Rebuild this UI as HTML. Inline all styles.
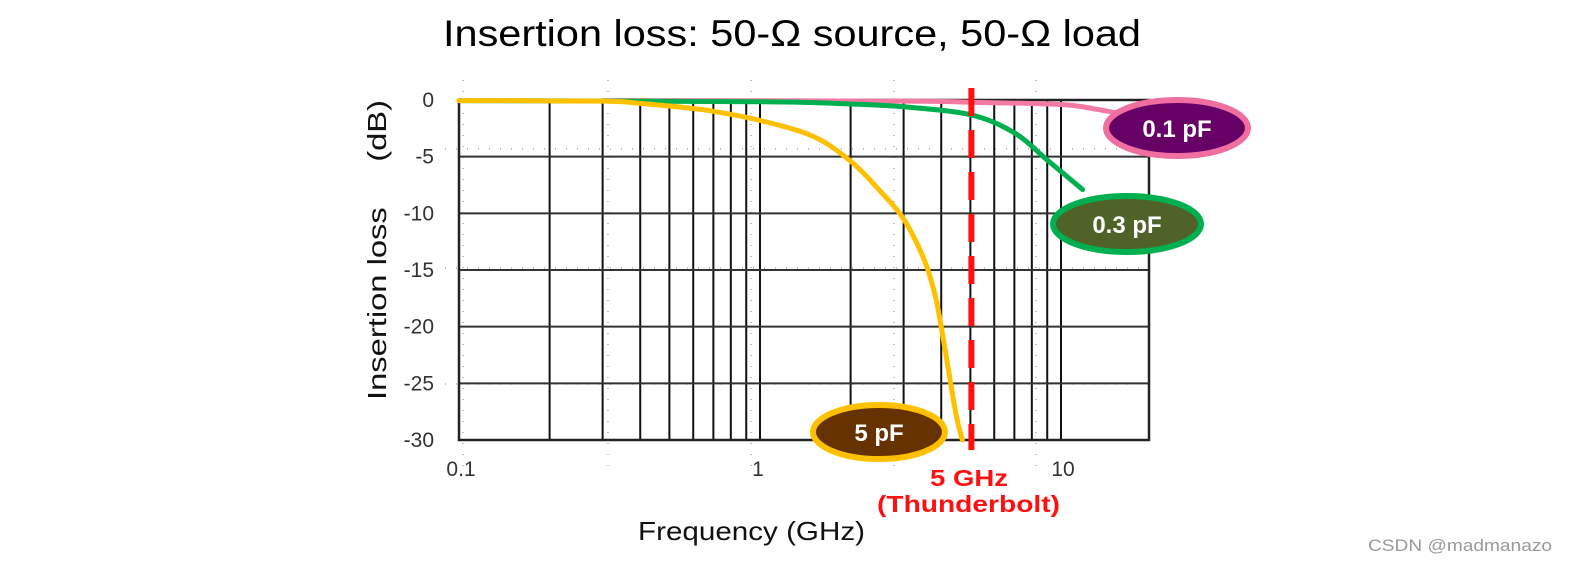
<!DOCTYPE html>
<html><head><meta charset="utf-8"><style>
body{margin:0;background:#fff;width:1571px;height:562px;overflow:hidden;font-family:"Liberation Sans",sans-serif}
</style></head><body>
<svg id="chart" width="1571" height="562" viewBox="0 0 1571 562" xmlns="http://www.w3.org/2000/svg">
<text x="443" y="46" textLength="698" lengthAdjust="spacingAndGlyphs" font-size="37" fill="#000">Insertion loss: 50-Ω source, 50-Ω load</text>
<g id="grid"></g>
<g id="ticks"></g>
<g id="series"></g>
<line id="marker" y1="88" y2="450" stroke="#ff1010" stroke-width="6" stroke-dasharray="28,14"/>
<g id="labels"></g>
<text x="638" y="540" textLength="227" lengthAdjust="spacingAndGlyphs" font-size="26" fill="#111">Frequency (GHz)</text>
<text transform="translate(386,400) rotate(-90)" textLength="300" lengthAdjust="spacingAndGlyphs" font-size="26" fill="#111" xml:space="preserve">Insertion loss     (dB)</text>
<text x="930" y="486" textLength="78" lengthAdjust="spacingAndGlyphs" font-size="23" font-weight="bold" fill="#ff1010">5 GHz</text>
<text x="877" y="512" textLength="183" lengthAdjust="spacingAndGlyphs" font-size="23" font-weight="bold" fill="#ff1010">(Thunderbolt)</text>
<text x="1368" y="551" textLength="184" lengthAdjust="spacingAndGlyphs" font-size="17" fill="#999">CSDN @madmanazo</text>
</svg>
<script>
const yTicks=[0,-5,-10,-15,-20,-25,-30];
const xTickLabels=["0.1","1","10"];
const xTickValues=[0.1,1,10];
const gridFreqs=[0.2,0.3,0.4,0.5,0.6,0.7,0.8,0.9,1,2,3,4,5,6,7,8,9,10];
const markerFreq=5;
const f5pF=[0.1,0.3,0.4,0.6,0.7,1.0,1.5,2.0,2.5,3.0,3.5,3.8,4.0,4.3,4.5,4.7];
const db5pF=[-0.05,-0.1,-0.3,-0.75,-1.0,-1.8,-3.2,-5.4,-8,-10.5,-14,-17,-20,-25,-28,-30];
const f03pF=[0.1,1,2,3,5,7,9,11.8];
const db03pF=[-0.05,-0.15,-0.35,-0.6,-1.3,-2.9,-5.3,-7.9];
const f01pF=[0.3,3,5,10,13,15.7];
const db01pF=[-0.05,-0.1,-0.2,-0.4,-0.8,-1.2];
const X0=459,X1=1149,Y0=100,Y1=440,DEC=301;
const x=f=>X0+DEC*Math.log10(f/0.1);
const y=d=>Y0+(-d)/30*(Y1-Y0);
const NS="http://www.w3.org/2000/svg";
function mk(t,p,a){const e=document.createElementNS(NS,t);for(const k in a)e.setAttribute(k,a[k]);p.appendChild(e);return e;}
const grid=document.getElementById('grid'),ticks=document.getElementById('ticks'),ser=document.getElementById('series'),lab=document.getElementById('labels');
[463,608,751,894,1036].forEach(px=>{const l=mk('line',grid,{x1:px,x2:px,y1:80,y2:470,stroke:'#aaa','stroke-width':1.5,'stroke-dasharray':'1,10'});

});
[149,268,384].forEach(py=>{const l=mk('line',grid,{x1:445,x2:1149,y1:py,y2:py,stroke:'#aaa','stroke-width':1.5,'stroke-dasharray':'1,10'});

});
gridFreqs.forEach(f=>{const l=mk('line',grid,{x1:x(f),x2:x(f),y1:Y0,y2:Y1,stroke:'#111','stroke-width':2});

});
yTicks.forEach(d=>{const l=mk('line',grid,{x1:X0,x2:X1,y1:y(d),y2:y(d),stroke:'#333','stroke-width':2});


const t=mk('text',ticks,{x:434,y:y(d)+7,'text-anchor':'end','font-size':21,fill:'#333'});t.textContent=String(d);

});
mk('rect',grid,{x:X0,y:Y0,width:X1-X0,height:Y1-Y0,fill:'none',stroke:'#222','stroke-width':2.5});
xTickValues.forEach((v,i)=>{const t=mk('text',ticks,{x:x(v)+(i==1?-2:2),y:476,'text-anchor':'middle','font-size':21,fill:'#333'});t.textContent=xTickLabels[i];

});
function curve(fs,ds,col,name){const pts=fs.map((f,i)=>[x(f),y(ds[i])]);let d='M'+pts[0].join(',');
for(let i=1;i<pts.length;i++){const p0=pts[Math.max(0,i-2)],p1=pts[i-1],p2=pts[i],p3=pts[Math.min(pts.length-1,i+1)];
d+=` C${p1[0]+(p2[0]-p0[0])/6},${p1[1]+(p2[1]-p0[1])/6} ${p2[0]-(p3[0]-p1[0])/6},${p2[1]-(p3[1]-p1[1])/6} ${p2[0]},${p2[1]}`;}
const p=mk('path',ser,{d:d,fill:'none',stroke:col,'stroke-width':5,'stroke-linecap':'round'});

}
curve(f01pF,db01pF,'#f47aa6','series-0.1pf');
curve(f03pF,db03pF,'#00b050','series-0.3pf');
curve(f5pF,db5pF,'#ffc000','series-5pf');
const m=document.getElementById('marker');m.setAttribute('x1',x(markerFreq)+1);m.setAttribute('x2',x(markerFreq)+1);
function badge(cx,cy,w,h,fill,stroke,txt,name){const g=mk('g',lab,{});


mk('ellipse',g,{cx:cx,cy:cy,rx:w/2,ry:h/2,fill:fill,stroke:stroke,'stroke-width':6});
const t=mk('text',g,{x:cx,y:cy+9,'text-anchor':'middle','font-size':24,'font-weight':'bold',fill:'#fff'});t.textContent=txt;}
badge(1177,128,142,56,'#660066','#f06ea0','0.1 pF','label-0.1pf');
badge(1127,224,148,56,'#4f6228','#00b050','0.3 pF','label-0.3pf');
badge(879,432,132,54,'#663300','#ffc000','5 pF','label-5pf');
</script>
</body></html>
